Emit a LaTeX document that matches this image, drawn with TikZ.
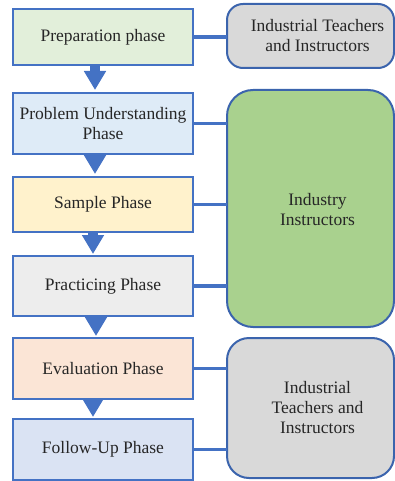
\documentclass[tikz,border=0pt]{standalone}
\usepackage{fontspec}
\setmainfont{Liberation Serif}
\newfontfamily\boxfont{Liberation Serif}
\usetikzlibrary{calc,positioning,arrows.meta}
\definecolor{flowblue}{HTML}{4472C4}
\definecolor{edgeblue}{HTML}{3B64AD}
\definecolor{prepfill}{HTML}{E2EFDA}
\definecolor{probfill}{HTML}{DEEBF7}
\definecolor{samplefill}{HTML}{FFF2CC}
\definecolor{practfill}{HTML}{EDEDED}
\definecolor{evalfill}{HTML}{FBE5D6}
\definecolor{followfill}{HTML}{DAE3F3}
\definecolor{greyfill}{HTML}{D9D9D9}
\definecolor{greenfill}{HTML}{A9D18E}
\tikzset{
  phase/.style={draw=flowblue,line width=2pt,minimum width=180pt,inner sep=0pt,outer sep=0pt,
    align=center,text=black!85,font=\boxfont\fontsize{17.5}{20}\selectfont},
  helper/.style={draw=edgeblue,line width=2pt,minimum width=167pt,inner sep=0pt,outer sep=0pt},
  helpertxt/.style={align=center,text=black!85,font=\boxfont\fontsize{17.5}{20}\selectfont,xshift=7pt},
  link/.style={draw=flowblue,line width=3.5pt},
  flow/.style={draw=flowblue,line width=10pt,-{Triangle[width=21pt,length=19pt]}}
}
\begin{document}
\begin{tikzpicture}
	\useasboundingbox (0,0) rectangle (395pt,-481pt);
	\coordinate (OR) at (0,0);
	% phases
	\node[phase,fill=prepfill,minimum height=56pt,below right=9pt and 13pt of OR,anchor=north west] (prep) {Preparation phase};
	\node[phase,fill=probfill,minimum height=61pt,below=28pt of prep] (prob) {Problem Understanding\\Phase};
	\node[phase,fill=samplefill,minimum height=55pt,below=23pt of prob] (sample) {Sample Phase};
	\node[phase,fill=practfill,minimum height=60pt,below=24pt of sample] (pract) {Practicing Phase};
	\node[phase,fill=evalfill,minimum height=61pt,below=22pt of pract] (eval) {Evaluation Phase};
	\node[phase,fill=followfill,minimum height=61pt,below=20pt of eval] (follow) {Follow-Up Phase};
	% who guides them
	\node[helper,fill=greyfill,rounded corners=16pt,minimum height=64pt,below right=4pt and 227pt of OR,anchor=north west,
	  label={[helpertxt]center:Industrial Teachers\\and Instructors}] (teachtop) {};
	\node[helper,fill=greenfill,rounded corners=26pt,minimum height=237pt,below=22pt of teachtop,
	  label={[helpertxt,yshift=-1pt]center:Industry\\Instructors}] (indus) {};
	\node[helper,fill=greyfill,rounded corners=22pt,minimum height=140pt,below=11pt of indus,
	  label={[helpertxt]center:Industrial\\Teachers and\\Instructors}] (teachbot) {};
	% links
	\draw[link] (prep.east) -- (prep.east -| teachtop.west);
	\draw[link] (prob.east) -- (prob.east -| indus.west);
	\draw[link] (sample.east) -- (sample.east -| indus.west);
	\draw[link] (pract.east) -- (pract.east -| indus.west);
	\draw[link] (eval.east) -- (eval.east -| teachbot.west);
	\draw[link] (follow.east) -- (follow.east -| teachbot.west);
	% flow
	\draw[flow] ([xshift=-8pt]prep.south) -- ([xshift=-8pt,yshift=3pt]prob.north);
	\draw[flow] ([xshift=-8pt]prob.south) -- ([xshift=-8pt,yshift=3pt]sample.north);
	\draw[flow] ([xshift=-10pt]sample.south) -- ([xshift=-10pt,yshift=2pt]pract.north);
	\draw[flow] ([xshift=-7pt]pract.south) -- ([xshift=-7pt,yshift=2pt]eval.north);
	\draw[flow] ([xshift=-10pt]eval.south) -- ([xshift=-10pt,yshift=2pt]follow.north);
\end{tikzpicture}
\end{document}
